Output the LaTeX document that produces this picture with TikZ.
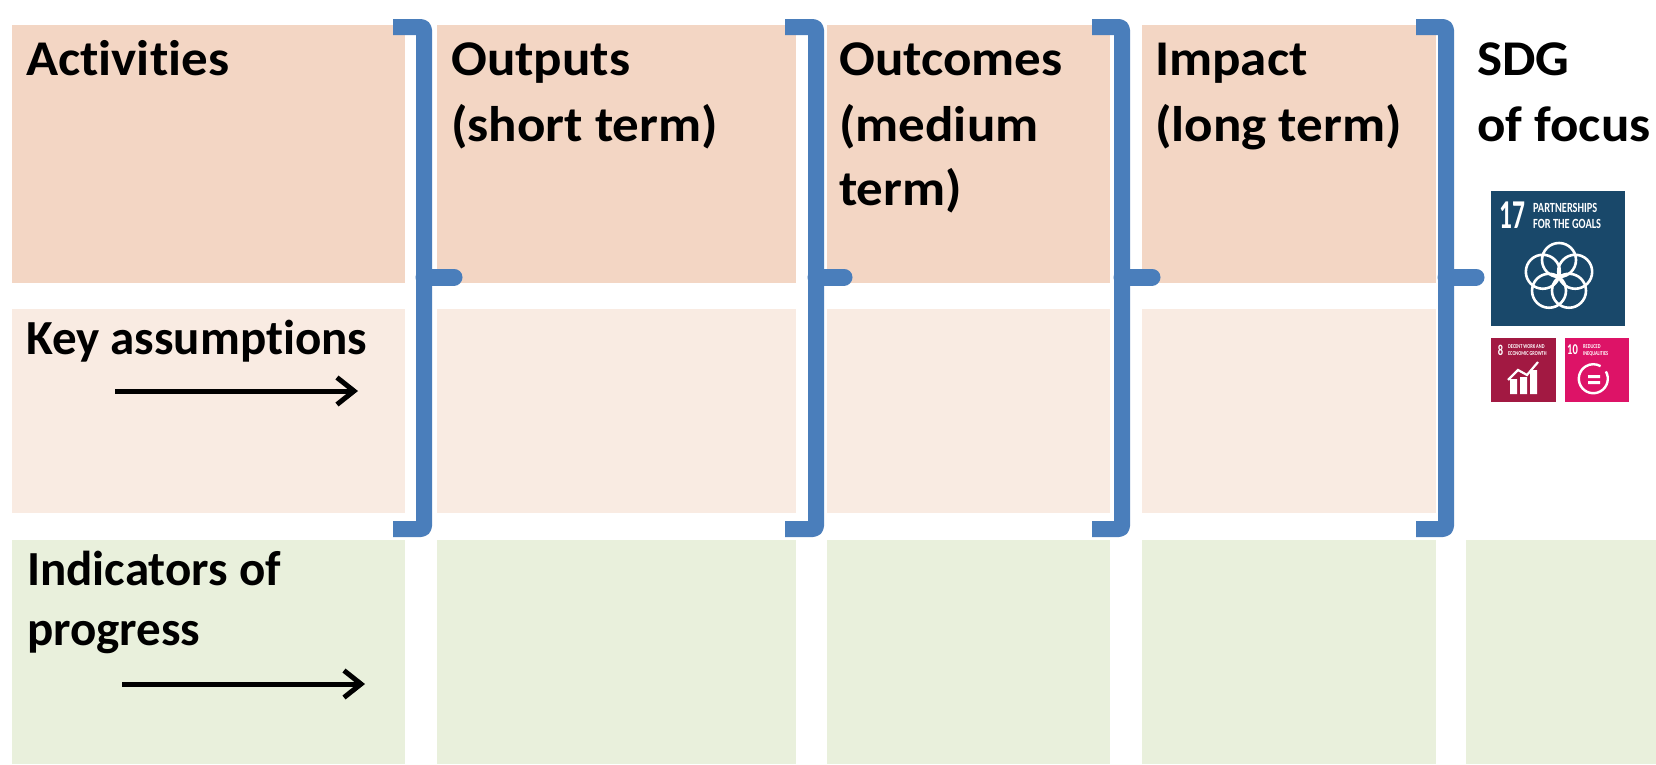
\documentclass[tikz,border=0pt]{standalone}
\usepackage{fontspec}
\setmainfont[Ligatures=CommonOff]{Carlito}
\usetikzlibrary{arrows.meta}
\definecolor{peach}{HTML}{F3D6C4}
\definecolor{lpeach}{HTML}{F9EBE2}
\definecolor{lgreen}{HTML}{E9F0DC}
\definecolor{brk}{HTML}{4A7EBB}
\definecolor{sdgA}{HTML}{19486A}
\definecolor{sdgB}{HTML}{A21942}
\definecolor{sdgC}{HTML}{DD1367}
\tikzset{x=1pt,y=-1pt,
 lbl/.style={inner sep=0,anchor=base west,align=left,xscale=1.06,font=\fontsize{50}{60}\selectfont\bfseries},
 lbs/.style={inner sep=0,anchor=base west,align=left,font=\fontsize{49}{60}\selectfont\bfseries},
 lbr/.style={draw=brk,line width=16,line cap=butt,line join=round,rounded corners=3},
 stub/.style={draw=brk,line width=17,line cap=round},
 arr/.style={draw=black,line width=5,-{Straight Barb[length=17,width=27,line width=5]}},
 wht/.style={white,inner sep=0,font=\bfseries},
 tiny/.style={white,inner sep=0,xscale=.73,align=left,anchor=west,font=\fontsize{6}{7}\selectfont\bfseries}}
\begin{document}
\begin{tikzpicture}
\useasboundingbox (0,0) rectangle (1656,764);
\fill[white] (0,0) rectangle (1656,764);
% columns
\foreach \l/\r in {12/405,437/796,827/1110,1142/1436}{
 \fill[peach] (\l,25) rectangle (\r,283);
 \fill[lpeach] (\l,309) rectangle (\r,513);
 \fill[lgreen] (\l,540) rectangle (\r,764);
}
\fill[lgreen] (1466,540) rectangle (1656,764);
% brackets
\foreach \n/\a/\b/\c in {1/393/424/454,2/785/816/844,3/1092/1122/1152,4/1416/1446/1476}{
 \coordinate (t\n) at (\a,27);
 \coordinate (c\n) at (\b,27);
 \coordinate (d\n) at (\b,529);
 \coordinate (e\n) at (\a,529);
 \coordinate (m\n) at (\b,277);
 \coordinate (s\n) at (\c,277);
 \draw[lbr] (t\n) -- (c\n) -- (d\n) -- (e\n);
 \draw[stub] (m\n) -- (s\n);
}
% labels
\node[lbl] (a) at (26,75) {Activities};
\node[lbl] (o) at (451,75) {Outputs};
\node[lbl] (o2) at (451,141) {(short term)};
\node[lbl] (m) at (839,75) {Outcomes};
\node[lbl] (m2) at (839,141) {(medium};
\node[lbl] (m3) at (839,205) {term)};
\node[lbl] (i) at (1155,75) {Impact};
\node[lbl] (i2) at (1155,141) {(long term)};
\node[lbl] (s) at (1477,75) {SDG};
\node[lbl] (s2) at (1477,141) {of focus};
\node[lbs] (k) at (26,354) {Key assumptions};
\node[lbs] (n) at (27,585) {Indicators of};
\node[lbs] (n2) at (27,645) {progress};
\coordinate (k1) at (115,391);
\coordinate (k2) at (358,391);
\coordinate (n3) at (122,684);
\coordinate (n4) at (365,684);
\draw[arr] (k1) -- (k2);
\draw[arr] (n3) -- (n4);
% SDG tiles
\fill[sdgA] (1491,191) rectangle (1625,326);
\node[wht,xscale=.62,font=\fontsize{41}{41}\selectfont\bfseries] (g17) at (1512.5,215) {17};
\node[wht,xscale=.74,align=left,anchor=west,font=\fontsize{14}{16}\selectfont\bfseries] (gp) at (1533,215.5) {PARTNERSHIPS\\FOR THE GOALS};
\foreach \ang in {90,162,234,306,18}
 \draw[white,line width=2.6] (1559,277) ++({17*cos(\ang)},{-17*sin(\ang)}) circle (17);
\fill[sdgB] (1491,338) rectangle (1556,402);
\node[wht,xscale=.7,font=\fontsize{15}{15}\selectfont\bfseries] (g8) at (1500.5,350) {8};
\node[tiny] (gd) at (1508,350) {DECENT WORK AND\\ECONOMIC GROWTH};
\fill[white] (1510,394) rectangle (1517,379) (1520,394) rectangle (1527,377) (1530,394) rectangle (1537,370);
\draw[white,line width=2.2] (1508,380) -- (1518,370) -- (1527,375) -- (1538,362);
\fill[sdgC] (1565,338) rectangle (1629,402);
\node[wht,xscale=.7,font=\fontsize{15}{15}\selectfont\bfseries] (g10) at (1572.5,350) {10};
\node[tiny] (gr) at (1583,350) {REDUCED\\INEQUALITIES};
\draw[white,line width=2.4] (1593.3,378.7) ++({14.5*cos(-30)},{14.5*sin(-30)}) arc[start angle=-30,end angle=300,radius=14.5];
\fill[white] (1588,375) rectangle (1600,378) (1588,381) rectangle (1600,384);
\end{tikzpicture}
\end{document}
